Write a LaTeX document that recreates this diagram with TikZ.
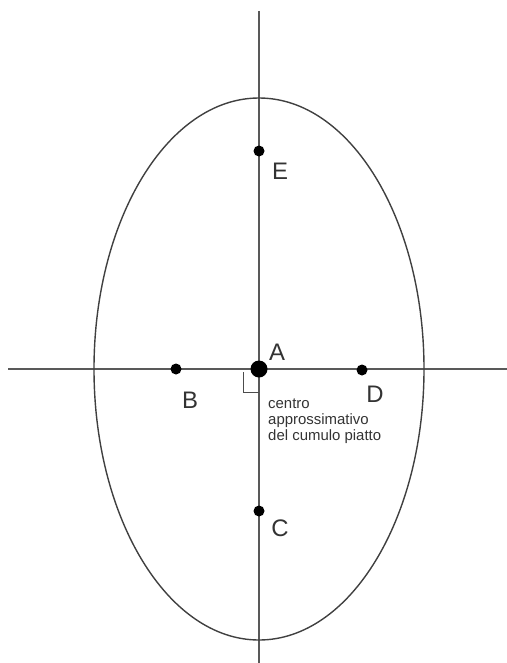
\documentclass[tikz,border=0pt]{standalone}
\usepackage{fontspec}
\setmainfont{Liberation Sans}
\begin{document}
\begin{tikzpicture}[x=1bp,y=-1bp,
  axis/.style={draw=black!65,line width=1.1bp},
  curve/.style={draw=black!75,line width=1.4bp},
  dot/.style={circle,fill=black,inner sep=0pt,minimum size=11bp},
  bigdot/.style={circle,fill=black,inner sep=0pt,minimum size=17bp},
  lab/.style={font=\fontsize{24}{24}\selectfont,text=black!80,inner sep=0pt},
  note/.style={font=\fontsize{15}{16}\selectfont,text=black!80,inner sep=0pt,align=left}]
\useasboundingbox (0,0) rectangle (507,663);
% axes
\coordinate (vt) at (259,11);
\coordinate (vb) at (259,663);
\coordinate (hl) at (8,369);
\coordinate (hr) at (507,369);
\draw[axis] (vt) -- (vb);
\draw[axis] (hl) -- (hr);
% ellipse
\draw[curve] (259,369) ellipse [x radius=165, y radius=271];
% right angle mark
\coordinate (ra1) at (243,372);
\coordinate (ra2) at (243,392);
\coordinate (ra3) at (259,392);
\draw[draw=black!70,line width=1bp] (ra1) -- (ra2) -- (ra3);
% points
\node[bigdot] (A) at (259,369) {};
\node[dot] (B) at (176,369) {};
\node[dot] (D) at (362,370) {};
\node[dot] (E) at (259,151) {};
\node[dot] (C) at (259,511) {};
% labels
\node[lab] (lA) at (277,352) {A};
\node[lab] (lB) at (190,400) {B};
\node[lab] (lD) at (375,394) {D};
\node[lab] (lE) at (280,171) {E};
\node[lab] (lC) at (280,528) {C};
\node[note,anchor=north west] (txt) at (268,399) {centro\\approssimativo\\del cumulo piatto};
\end{tikzpicture}
\end{document}
